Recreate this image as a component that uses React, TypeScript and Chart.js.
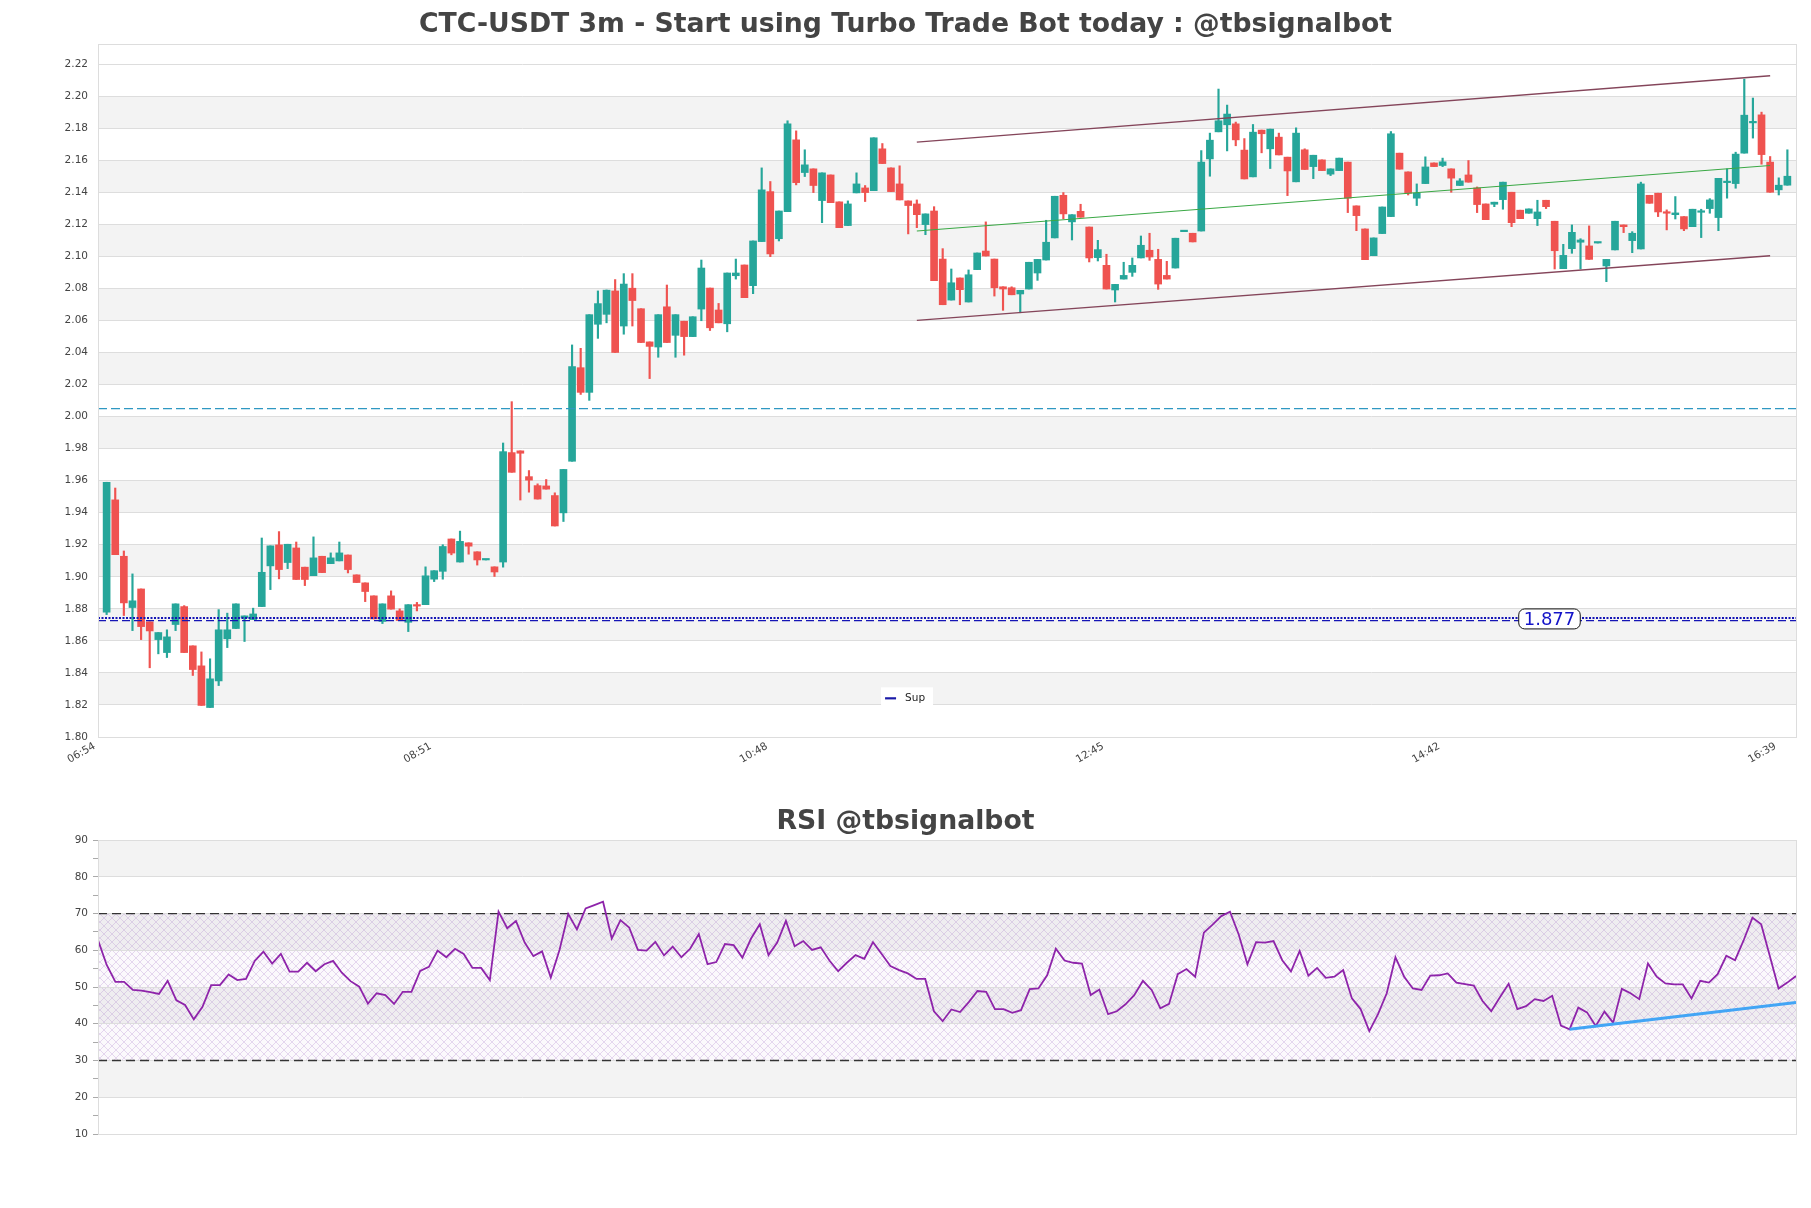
import React, { useEffect, useRef } from "react";
import { Chart, registerables } from "chart.js";
Chart.register(...registerables);

// ---------- data ----------
const TIME_LABELS = ["06:54", "08:51", "10:48", "12:45", "14:42", "16:39"];
const TIME_TICK_INDEX = [0, 39, 78, 117, 156, 195];

const OPEN = [
  1.8779, 1.948, 1.9128, 1.8808, 1.8924, 1.8719, 1.8608, 1.8527, 1.8702, 1.8814,
  1.8569, 1.8444, 1.8184, 1.835, 1.8613, 1.8677, 1.8743, 1.8733, 1.8814, 1.9068,
  1.9199, 1.9089, 1.918, 1.906, 1.9007, 1.9128, 1.9082, 1.9099, 1.9136, 1.9012,
  1.8962, 1.8881, 1.8721, 1.8881, 1.8787, 1.8716, 1.8826, 1.8826, 1.8985, 1.9034,
  1.9236, 1.9092, 1.9212, 1.9156, 1.9105, 1.9062, 1.9092, 1.9775, 1.9786, 1.9625,
  1.9569, 1.9567, 1.9507, 1.9399, 1.9721, 2.0305, 2.0151, 2.0576, 2.0638, 2.0784,
  2.0565, 2.0801, 2.0673, 2.0466, 2.0434, 2.0685, 2.0507, 2.0595, 2.0499, 2.0671,
  2.0802, 2.0665, 2.0579, 2.0879, 2.0946, 2.0817, 2.1092, 2.1404, 2.111, 2.1279,
  2.1727, 2.1523, 2.1546, 2.1348, 2.1508, 2.134, 2.1192, 2.1396, 2.1427, 2.141,
  2.1671, 2.1552, 2.1452, 2.1346, 2.1327, 2.1198, 2.1283, 2.0983, 2.0727, 2.0865,
  2.0715, 2.0917, 2.1033, 2.0983, 2.081, 2.0804, 2.0765, 2.0796, 2.0896, 2.0977,
  2.1115, 2.1381, 2.1215, 2.1281, 2.1183, 2.0992, 2.0944, 2.079, 2.0858, 2.09,
  2.099, 2.1038, 2.0981, 2.0881, 2.0927, 2.1154, 2.1144, 2.1158, 2.1608, 2.1777,
  2.1821, 2.1827, 2.1663, 2.1496, 2.1788, 2.1671, 2.1744, 2.1619, 2.1465, 2.1665,
  2.156, 2.1602, 2.1513, 2.1535, 2.1588, 2.1315, 2.1171, 2.1004, 2.1142, 2.1248,
  2.1644, 2.1527, 2.1363, 2.1454, 2.1583, 2.1567, 2.1546, 2.1442, 2.1508, 2.1427,
  2.1327, 2.1325, 2.1354, 2.14, 2.1288, 2.1269, 2.1235, 2.135, 2.1219, 2.0923,
  2.1048, 2.1088, 2.1065, 2.1083, 2.094, 2.104, 2.1196, 2.1098, 2.1046, 2.1381,
  2.1394, 2.1277, 2.126, 2.1248, 2.1185, 2.1275, 2.1298, 2.1242, 2.146, 2.1454,
  2.1644, 2.1833, 2.1883, 2.1588, 2.1415, 2.1444,
];
const HIGH = [
  1.959, 1.9554, 1.9161, 1.9018, 1.8924, 1.8719, 1.8652, 1.8669, 1.8831, 1.882,
  1.8569, 1.8531, 1.8488, 1.8795, 1.8773, 1.8831, 1.8756, 1.8804, 1.9242, 1.9193,
  1.9282, 1.9203, 1.9217, 1.906, 1.9249, 1.9128, 1.9149, 1.9217, 1.9136, 1.9012,
  1.8962, 1.8881, 1.8831, 1.8912, 1.88, 1.8826, 1.884, 1.9062, 1.9038, 1.92,
  1.9236, 1.9285, 1.9212, 1.9156, 1.9107, 1.9062, 1.9835, 2.0093, 1.9786, 1.9663,
  1.958, 1.9607, 1.9524, 1.967, 2.0447, 2.0426, 2.0636, 2.0784, 2.079, 2.0855,
  2.0892, 2.0892, 2.0673, 2.0466, 2.0636, 2.0821, 2.0636, 2.0595, 2.0623, 2.0977,
  2.0802, 2.0706, 2.0896, 2.0983, 2.0946, 2.1096, 2.1552, 2.1467, 2.1283, 2.1846,
  2.1783, 2.1665, 2.1546, 2.1521, 2.1508, 2.134, 2.1346, 2.1521, 2.1442, 2.174,
  2.1704, 2.1552, 2.1565, 2.1346, 2.1352, 2.1265, 2.131, 2.1048, 2.0921, 2.0865,
  2.0915, 2.1021, 2.1215, 2.0983, 2.081, 2.081, 2.0788, 2.0963, 2.0981, 2.1225,
  2.1375, 2.1398, 2.126, 2.1325, 2.1183, 2.11, 2.1013, 2.0825, 2.0963, 2.099,
  2.1127, 2.1144, 2.1044, 2.0969, 2.1113, 2.1156, 2.1144, 2.166, 2.1769, 2.2044,
  2.1944, 2.1838, 2.1735, 2.1823, 2.1788, 2.1794, 2.1769, 2.1619, 2.1802, 2.1671,
  2.1631, 2.1602, 2.1546, 2.1613, 2.1588, 2.1315, 2.1171, 2.1115, 2.1308, 2.1779,
  2.1644, 2.1527, 2.1452, 2.1621, 2.1583, 2.1613, 2.1546, 2.1485, 2.1598, 2.1433,
  2.1327, 2.1338, 2.1463, 2.14, 2.1288, 2.1296, 2.135, 2.135, 2.1219, 2.1075,
  2.1196, 2.111, 2.119, 2.1085, 2.0981, 2.1219, 2.1196, 2.1154, 2.1463, 2.1381,
  2.1394, 2.129, 2.1373, 2.1248, 2.1294, 2.1294, 2.136, 2.1487, 2.1546, 2.165,
  2.2106, 2.1988, 2.19, 2.1623, 2.149, 2.1665,
];
const LOW = [
  1.8764, 1.9138, 1.8758, 1.8664, 1.8608, 1.8432, 1.8519, 1.8496, 1.8664, 1.8527,
  1.8384, 1.8197, 1.8184, 1.8321, 1.8558, 1.8677, 1.8596, 1.8733, 1.8814, 1.892,
  1.8987, 1.9051, 1.8983, 1.8945, 1.9007, 1.9026, 1.9082, 1.9099, 1.9024, 1.8964,
  1.8845, 1.8737, 1.8708, 1.8798, 1.8727, 1.8658, 1.8787, 1.8826, 1.897, 1.8985,
  1.9137, 1.9092, 1.9141, 1.9073, 1.9105, 1.9002, 1.906, 1.9652, 1.9479, 1.9528,
  1.9485, 1.9547, 1.9317, 1.9345, 1.9721, 2.0138, 2.0101, 2.0488, 2.0585, 2.04,
  2.0514, 2.0565, 2.0462, 2.0237, 2.037, 2.0462, 2.037, 2.0383, 2.0499, 2.0598,
  2.0537, 2.0585, 2.0529, 2.0858, 2.0742, 2.0767, 2.1092, 2.0998, 2.1096, 2.1279,
  2.1446, 2.1498, 2.1398, 2.121, 2.1335, 2.1179, 2.1192, 2.1396, 2.1342, 2.141,
  2.1579, 2.1404, 2.1352, 2.114, 2.1179, 2.1135, 2.0848, 2.0698, 2.0727, 2.0698,
  2.0715, 2.0917, 2.1002, 2.0752, 2.0663, 2.076, 2.0648, 2.0796, 2.085, 2.0977,
  2.1115, 2.1235, 2.1102, 2.1244, 2.0965, 2.0971, 2.0796, 2.0715, 2.0858, 2.0875,
  2.099, 2.0975, 2.0794, 2.0858, 2.0927, 2.1154, 2.109, 2.1158, 2.15, 2.1777,
  2.1658, 2.169, 2.1483, 2.1496, 2.1646, 2.1548, 2.1633, 2.1379, 2.1465, 2.1542,
  2.1485, 2.1535, 2.1504, 2.1535, 2.1273, 2.116, 2.0979, 2.1004, 2.1142, 2.1248,
  2.1544, 2.1383, 2.1317, 2.1454, 2.156, 2.156, 2.14, 2.1442, 2.1463, 2.1273,
  2.1229, 2.131, 2.1294, 2.1185, 2.1235, 2.1269, 2.1192, 2.1298, 2.0921, 2.0923,
  2.1019, 2.0921, 2.0981, 2.1083, 2.0842, 2.104, 2.1148, 2.1023, 2.1046, 2.1331,
  2.1248, 2.1165, 2.1233, 2.116, 2.1185, 2.1117, 2.1269, 2.116, 2.1363, 2.1425,
  2.1644, 2.1738, 2.1575, 2.14, 2.1383, 2.1444,
];
const CLOSE = [
  1.959, 1.9138, 1.8837, 1.885, 1.8689, 1.8662, 1.8652, 1.8625, 1.8831, 1.8527,
  1.8421, 1.8197, 1.8363, 1.8669, 1.8669, 1.8831, 1.8756, 1.8768, 1.9028, 1.9193,
  1.9045, 1.9203, 1.8983, 1.8983, 1.9118, 1.9026, 1.9118, 1.9149, 1.9045, 1.8964,
  1.8908, 1.8737, 1.8831, 1.8798, 1.8727, 1.8826, 1.8817, 1.9006, 1.9038, 1.9189,
  1.9148, 1.9221, 1.9191, 1.9105, 1.9107, 1.903, 1.9781, 1.9652, 1.9771, 1.9603,
  1.9485, 1.9547, 1.9317, 1.967, 2.0312, 2.0151, 2.0636, 2.0705, 2.0789, 2.04,
  2.0827, 2.0724, 2.0462, 2.0438, 2.0636, 2.0462, 2.0636, 2.0499, 2.0623, 2.0927,
  2.0554, 2.0585, 2.0896, 2.0896, 2.0742, 2.1096, 2.1415, 2.1015, 2.1283, 2.1827,
  2.146, 2.1571, 2.1442, 2.1521, 2.1335, 2.1179, 2.1327, 2.1452, 2.1398, 2.174,
  2.1579, 2.1404, 2.1352, 2.1317, 2.126, 2.1265, 2.0848, 2.0698, 2.0835, 2.0792,
  2.0885, 2.1021, 2.1002, 2.0804, 2.0796, 2.076, 2.0788, 2.0963, 2.0981, 2.1088,
  2.1375, 2.1265, 2.126, 2.1244, 2.099, 2.1042, 2.0796, 2.0825, 2.0881, 2.0944,
  2.1069, 2.0996, 2.0827, 2.0858, 2.1113, 2.1156, 2.109, 2.1588, 2.1725, 2.1846,
  2.1888, 2.1727, 2.1483, 2.1775, 2.1765, 2.1794, 2.1633, 2.1533, 2.1769, 2.1542,
  2.1631, 2.1535, 2.1546, 2.1613, 2.1363, 2.1254, 2.0979, 2.1115, 2.1308, 2.1765,
  2.1544, 2.1394, 2.1394, 2.1558, 2.156, 2.159, 2.1488, 2.1471, 2.1463, 2.1323,
  2.1229, 2.1338, 2.1463, 2.121, 2.1235, 2.1296, 2.1277, 2.131, 2.1035, 2.1006,
  2.115, 2.1102, 2.0981, 2.1085, 2.0981, 2.1219, 2.1185, 2.1144, 2.1452, 2.1331,
  2.1277, 2.1269, 2.1271, 2.1171, 2.1294, 2.1281, 2.1352, 2.1487, 2.1465, 2.1638,
  2.1881, 2.1842, 2.1635, 2.14, 2.1444, 2.15,
];
const RSI = [
  62.8, 56.0, 51.4, 51.4, 49.2, 49.0, 48.6, 48.1, 51.7, 46.4,
  45.1, 41.2, 44.6, 50.5, 50.5, 53.4, 51.9, 52.2, 57.1, 59.6,
  56.4, 59.0, 54.2, 54.2, 56.6, 54.3, 56.2, 57.1, 53.9, 51.6,
  50.1, 45.5, 48.3, 47.8, 45.4, 48.7, 48.7, 54.4, 55.5, 59.9,
  58.1, 60.4, 59.0, 55.2, 55.2, 51.9, 70.5, 66.0, 68.0, 62.1,
  58.4, 59.7, 52.6, 60.1, 69.9, 65.7, 71.4, 72.3, 73.2, 63.2,
  68.2, 66.2, 60.1, 59.9, 62.3, 58.6, 61.0, 58.1, 60.4, 64.4,
  56.2, 56.8, 61.7, 61.4, 58.0, 63.2, 67.1, 58.7, 62.1, 68.0,
  61.1, 62.5, 60.1, 60.8, 57.2, 54.3, 56.6, 58.7, 57.7, 62.2,
  59.0, 55.7, 54.6, 53.7, 52.2, 52.2, 43.4, 40.7, 43.9, 43.2,
  45.9, 48.9, 48.7, 44.0, 44.0, 43.0, 43.7, 49.4, 49.6, 53.2,
  60.4, 57.2, 56.6, 56.4, 47.8, 49.3, 42.6, 43.4, 45.3, 47.8,
  51.7, 49.2, 44.2, 45.4, 53.5, 54.9, 52.8, 64.8, 67.0, 69.3,
  70.5, 64.3, 56.2, 62.2, 62.1, 62.5, 57.3, 54.2, 59.8, 53.1,
  55.2, 52.5, 52.8, 54.6, 46.9, 44.0, 38.0, 42.6, 48.3, 58.1,
  52.8, 49.6, 49.2, 53.1, 53.2, 53.7, 51.2, 50.8, 50.4, 46.2,
  43.4, 47.2, 50.9, 44.0, 44.8, 46.7, 46.2, 47.6, 39.5, 38.5,
  44.4, 43.1, 39.4, 43.3, 40.3, 49.5, 48.3, 46.7, 56.4, 52.8,
  51.0, 50.7, 50.7, 46.9, 51.7, 51.2, 53.5, 58.5, 57.3, 62.8,
  68.9, 67.1, 58.4, 49.6, 51.2, 53.0,
];

const RESISTANCE = 2.005;
const SUPPORT_DOTTED = 1.8742;
const SUPPORT_DASHED = 1.8726;
const SUPPORT_LABEL = "1.877";
const SUPPORT_LABEL_LEVEL = 1.8737;
const SUPPORT_LABEL_AT = 167.4;
const CHANNEL_X = [94, 193];
const CHANNEL_UPPER = [2.1713, 2.2127];
const CHANNEL_MID = [2.1158, 2.1567];
const CHANNEL_LOWER = [2.06, 2.1004];
const RSI_TREND_X = [169, 195];
const RSI_TREND_Y = [38.5, 45.8];
const RSI_LEVELS = [70, 30];
const LEGEND_LABEL = "Sup";
const LEGEND_AT = [89.85, 1.831];

const TITLE_MAIN = "CTC-USDT 3m - Start using Turbo Trade Bot today : @tbsignalbot";
const TITLE_RSI = "RSI @tbsignalbot";

// ---------- styles ----------
const GREEN = "#26a69a";
const RED = "#ef5350";
const FONT = "'DejaVu Sans', sans-serif";
const BAND = "#f3f3f3";
const GRID = "#dddddd";

function panelPlugin(bands: number[][], hatch?: number[]) {
  return {
    id: "panel",
    beforeDraw(chart: any) {
      const { ctx, chartArea: a, scales } = chart;
      const y = scales.y;
      ctx.save();
      ctx.beginPath();
      ctx.rect(a.left, a.top, a.right - a.left, a.bottom - a.top);
      ctx.clip();
      ctx.fillStyle = BAND;
      for (const [lo, hi] of bands) {
        const p1 = y.getPixelForValue(hi);
        const p2 = y.getPixelForValue(lo);
        ctx.fillRect(a.left, p1, a.right - a.left, p2 - p1);
      }
      if (hatch) {
        const p1 = y.getPixelForValue(hatch[1]);
        const p2 = y.getPixelForValue(hatch[0]);
        ctx.fillStyle = "rgba(150,100,180,0.04)";
        ctx.fillRect(a.left, p1, a.right - a.left, p2 - p1);
        const tile = document.createElement("canvas");
        tile.width = 8;
        tile.height = 8;
        const g = tile.getContext("2d")!;
        g.strokeStyle = "rgba(170,125,200,0.4)";
        g.lineWidth = 0.7;
        g.beginPath();
        g.moveTo(0, 0);
        g.lineTo(8, 8);
        g.moveTo(0, 8);
        g.lineTo(8, 0);
        g.stroke();
        const pat = ctx.createPattern(tile, "repeat");
        if (pat) {
          ctx.fillStyle = pat;
          ctx.fillRect(a.left, p1, a.right - a.left, p2 - p1);
        }
      }
      ctx.restore();
    },
    afterDraw(chart: any) {
      const { ctx, chartArea: a } = chart;
      ctx.save();
      ctx.strokeStyle = GRID;
      ctx.lineWidth = 1;
      ctx.strokeRect(Math.round(a.left) + 0.5, Math.round(a.top) + 0.5, Math.round(a.right - a.left), Math.round(a.bottom - a.top));
      ctx.restore();
    },
  };
}

const annotPlugin = {
  id: "annot",
  afterDatasetsDraw(chart: any) {
    const { ctx, scales } = chart;
    const x = scales.x;
    const y = scales.y;
    ctx.save();
    // support value label
    const px = x.getPixelForValue(SUPPORT_LABEL_AT);
    const py = y.getPixelForValue(SUPPORT_LABEL_LEVEL);
    ctx.font = `18px ${FONT}`;
    const tw = ctx.measureText(SUPPORT_LABEL).width;
    const w = tw + 10;
    const h = 20;
    ctx.beginPath();
    ctx.roundRect(px - w / 2, py - h / 2, w, h, 6);
    ctx.fillStyle = "#ffffff";
    ctx.fill();
    ctx.lineWidth = 1;
    ctx.strokeStyle = "#111";
    ctx.stroke();
    ctx.fillStyle = "#1414c8";
    ctx.textAlign = "center";
    ctx.textBaseline = "middle";
    ctx.fillText(SUPPORT_LABEL, px, py + 1);
    // legend
    const lx = x.getPixelForValue(LEGEND_AT[0]);
    const ly = y.getPixelForValue(LEGEND_AT[1]);
    ctx.fillStyle = "#ffffff";
    ctx.fillRect(lx, ly, 52, 20);
    ctx.strokeStyle = "#1a1aa8";
    ctx.lineWidth = 2.2;
    ctx.beginPath();
    ctx.moveTo(lx + 4, ly + 11);
    ctx.lineTo(lx + 15, ly + 11);
    ctx.stroke();
    ctx.font = `10.5px ${FONT}`;
    ctx.fillStyle = "#222";
    ctx.textAlign = "left";
    ctx.textBaseline = "middle";
    ctx.fillText(LEGEND_LABEL, lx + 24, ly + 10.5);
    ctx.restore();
  },
};

function hline(level: number, x0: number, x1: number, color: string, width: number, dash: number[], order: number) {
  return {
    type: "line",
    data: [
      { x: x0, y: level },
      { x: x1, y: level },
    ],
    borderColor: color,
    borderWidth: width,
    borderDash: dash,
    pointRadius: 0,
    fill: false,
    order,
  };
}

function segment(xs: number[], ys: number[], color: string, width: number, order: number) {
  return {
    type: "line",
    data: xs.map((v, i) => ({ x: v, y: ys[i] })),
    borderColor: color,
    borderWidth: width,
    pointRadius: 0,
    fill: false,
    order,
  };
}

export default function App() {
  const mainRef = useRef<HTMLCanvasElement>(null);
  const rsiRef = useRef<HTMLCanvasElement>(null);

  useEffect(() => {
    const idx = OPEN.map((_, i) => i);
    const colors = idx.map((i) => (CLOSE[i] >= OPEN[i] ? GREEN : RED));
    const priceBands: number[][] = [];
    for (let v = 1.82; v < 2.2; v += 0.04) priceBands.push([v, v + 0.02]);

    const main = new Chart(mainRef.current!, {
      type: "bar",
      data: {
        datasets: [
          {
            type: "bar",
            data: idx.map((i) => ({ x: i, y: [LOW[i], HIGH[i]] })),
            backgroundColor: colors,
            barThickness: 1.5,
            grouped: false,
            order: 5,
          },
          {
            type: "bar",
            data: idx.map((i) => ({ x: i, y: [OPEN[i], CLOSE[i]] })),
            backgroundColor: colors,
            barThickness: 7,
            minBarLength: 1.5,
            grouped: false,
            order: 4,
          },
          hline(RESISTANCE, -1, 196, "#2f98c2", 1.2, [9, 4], 2),
          hline(SUPPORT_DOTTED, -1, 196, "#1515b5", 2, [2, 1.5], 1),
          hline(SUPPORT_DASHED, -1, 196, "#1515b5", 1.3, [8, 4], 1),
          segment(CHANNEL_X, CHANNEL_UPPER, "#84455a", 1.4, 1),
          segment(CHANNEL_X, CHANNEL_MID, "#3aa845", 1.1, 1),
          segment(CHANNEL_X, CHANNEL_LOWER, "#84455a", 1.4, 1),
        ] as any,
      },
      options: {
        responsive: false,
        animation: false,
        events: [],
        layout: { padding: { left: 15, right: 15, top: 0, bottom: 0 } },
        plugins: {
          legend: { display: false },
          tooltip: { enabled: false },
          title: {
            display: true,
            text: TITLE_MAIN,
            color: "#444",
            font: { family: FONT, size: 26.7, weight: "bold" },
            padding: { top: 9, bottom: 3 },
          },
        },
        scales: {
          x: {
            type: "linear",
            min: -1,
            max: 196,
            offset: false,
            grid: { display: false, drawTicks: false },
            border: { display: false },
            afterBuildTicks: (s: any) => {
              s.ticks = TIME_TICK_INDEX.map((v) => ({ value: v }));
            },
            afterFit: (s: any) => {
              s.height = 53;
            },
            ticks: {
              autoSkip: false,
              maxRotation: 30,
              minRotation: 30,
              padding: 3,
              labelOffset: -12,
              color: "#444",
              font: { family: FONT, size: 10.5 },
              callback: (v: any) => {
                const k = TIME_TICK_INDEX.indexOf(Number(v));
                return k >= 0 ? TIME_LABELS[k] : "";
              },
            },
          },
          y: {
            type: "linear",
            min: 1.8,
            max: 2.2325,
            grid: { color: GRID, drawTicks: false },
            border: { display: false },
            afterFit: (s: any) => {
              s.width = 83;
            },
            ticks: {
              stepSize: 0.02,
              includeBounds: false,
              padding: 10,
              color: "#444",
              font: { family: FONT, size: 10.5 },
              callback: (v: any) => Number(v).toFixed(2),
            },
          },
        },
      } as any,
      plugins: [panelPlugin(priceBands), annotPlugin] as any,
    });

    const rsiBands = [
      [80, 90],
      [60, 70],
      [40, 50],
      [20, 30],
    ];
    const rsi = new Chart(rsiRef.current!, {
      type: "line",
      data: {
        datasets: [
          {
            data: idx.map((i) => ({ x: i, y: RSI[i] })),
            borderColor: "#8e24aa",
            borderWidth: 1.8,
            pointRadius: 0,
            tension: 0,
            fill: false,
            order: 1,
          },
          hline(RSI_LEVELS[0], 0, 195, "#333333", 1.3, [9, 5], 2),
          hline(RSI_LEVELS[1], 0, 195, "#333333", 1.3, [9, 5], 2),
          segment(RSI_TREND_X, RSI_TREND_Y, "#42a5f5", 3, 0),
        ] as any,
      },
      options: {
        responsive: false,
        animation: false,
        events: [],
        layout: { padding: { left: 15, right: 15, top: 0, bottom: 74 } },
        plugins: {
          legend: { display: false },
          tooltip: { enabled: false },
          title: {
            display: true,
            text: TITLE_RSI,
            color: "#444",
            font: { family: FONT, size: 26.7, weight: "bold" },
            padding: { top: 16, bottom: 2 },
          },
        },
        scales: {
          x: { type: "linear", min: 0, max: 195, display: false },
          y: {
            type: "linear",
            min: 10,
            max: 90,
            border: { display: false },
            grid: {
              color: (c: any) => (c.tick && c.tick.value % 10 === 0 ? GRID : "rgba(0,0,0,0)"),
              tickColor: "#aaaaaa",
              tickLength: 5,
            },
            afterFit: (s: any) => {
              s.width = 83;
            },
            ticks: {
              stepSize: 5,
              autoSkip: false,
              padding: 5,
              color: "#444",
              font: { family: FONT, size: 10.5 },
              callback: (v: any) => (Number(v) % 10 === 0 ? String(v) : ""),
            },
          },
        },
      } as any,
      plugins: [panelPlugin(rsiBands, [30, 70])] as any,
    });

    return () => {
      main.destroy();
      rsi.destroy();
    };
  }, []);

  return (
    <div style={{ position: "absolute", left: 0, top: 0, width: 1811, height: 1208, background: "#ffffff" }}>
      <canvas ref={mainRef} width={1811} height={790} style={{ position: "absolute", left: 0, top: 0, display: "block" }} />
      <canvas ref={rsiRef} width={1811} height={418} style={{ position: "absolute", left: 0, top: 790, display: "block" }} />
    </div>
  );
}
